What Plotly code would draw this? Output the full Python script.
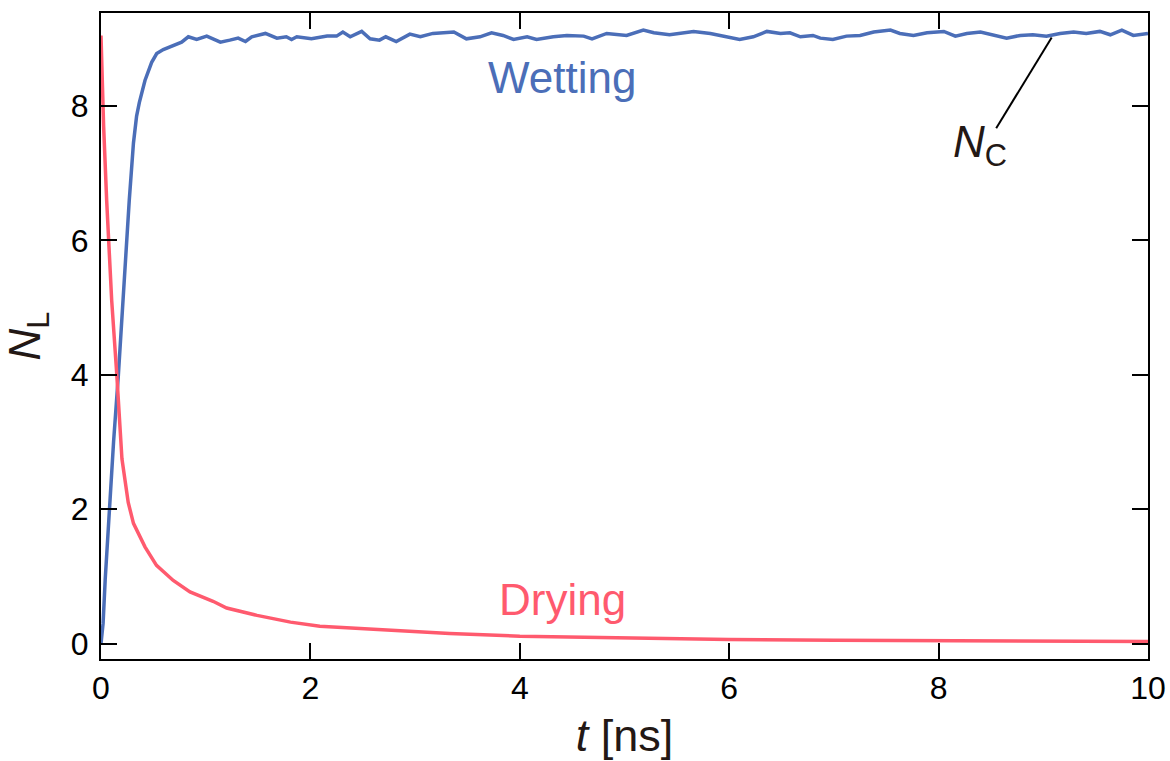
import plotly.graph_objects as go

# Wetting (blue) trajectory: t [ns], N_L
wet_t = [0, 0.02, 0.04, 0.06, 0.086, 0.12, 0.166, 0.207, 0.24, 0.27, 0.31, 0.34, 0.366,
         0.42, 0.484, 0.532, 0.595, 0.69, 0.77, 0.834, 0.914, 1.01, 1.14, 1.23, 1.31,
         1.38, 1.44, 1.57, 1.68, 1.77, 1.82, 1.87, 2.01, 2.16, 2.25, 2.31, 2.38, 2.49,
         2.57, 2.66, 2.72, 2.82, 2.95, 3.05, 3.17, 3.37, 3.49, 3.62, 3.73, 3.84, 3.94,
         4.07, 4.16, 4.32, 4.45, 4.61, 4.69, 4.83, 5.02, 5.18, 5.28, 5.43, 5.66, 5.82,
         5.98, 6.10, 6.23, 6.36, 6.49, 6.58, 6.68, 6.80, 6.87, 6.99, 7.12, 7.25, 7.38,
         7.54, 7.63, 7.76, 7.89, 8.05, 8.16, 8.27, 8.40, 8.52, 8.65, 8.78, 8.90, 9.03,
         9.16, 9.29, 9.41, 9.54, 9.64, 9.75, 9.86, 10.0]
wet_n = [0.0, 0.3, 0.95, 1.5, 2.05, 3.0, 4.0, 5.1, 5.9, 6.6, 7.45, 7.85, 8.05,
         8.38, 8.65, 8.78, 8.84, 8.9, 8.95, 9.03, 8.99, 9.04, 8.95, 8.98, 9.01,
         8.96, 9.03, 9.08, 9.01, 9.03, 8.99, 9.03, 9.0, 9.04, 9.04, 9.1, 9.03, 9.11,
         9.0, 8.98, 9.03, 8.96, 9.07, 9.03, 9.08, 9.1, 9.0, 9.03, 9.09, 9.05, 8.99,
         9.03, 8.99, 9.03, 9.05, 9.04, 9.0, 9.08, 9.05, 9.13, 9.09, 9.06, 9.11, 9.08,
         9.03, 8.99, 9.03, 9.11, 9.08, 9.09, 9.03, 9.05, 9.01, 8.99, 9.04, 9.05, 9.1,
         9.13, 9.08, 9.05, 9.09, 9.11, 9.04, 9.08, 9.1, 9.06, 9.01, 9.05, 9.06, 9.04,
         9.08, 9.1, 9.08, 9.11, 9.06, 9.13, 9.05, 9.08]

# Drying (red) trajectory
dry_t = [0, 0.025, 0.054, 0.102, 0.15, 0.2, 0.26, 0.31, 0.42, 0.53, 0.69, 0.85,
         1.07, 1.2, 1.49, 1.81, 2.09, 2.44, 2.76, 3.33, 4.0, 4.77, 6.0, 7.0, 8.0,
         9.0, 10.0]
dry_n = [9.05, 7.7, 6.6, 5.11, 4.02, 2.75, 2.1, 1.79, 1.44, 1.165, 0.94, 0.77,
         0.63, 0.53, 0.42, 0.32, 0.26, 0.23, 0.19, 0.15, 0.11, 0.09, 0.06, 0.05, 0.04,
         0.035, 0.03]

x_ticks = [0, 2, 4, 6, 8, 10]
y_ticks = [0, 2, 4, 6, 8]

BLUE = "#4B6EB8"
RED = "#FF5A6E"
INK = "#231815"
FONT = "Liberation Sans"

fig = go.Figure()
fig.add_trace(go.Scatter(x=wet_t, y=wet_n, mode="lines",
                         line=dict(color=BLUE, width=3.5), showlegend=False))
fig.add_trace(go.Scatter(x=dry_t, y=dry_n, mode="lines",
                         line=dict(color=RED, width=3.5), showlegend=False))

axis_common = dict(
    showgrid=False, zeroline=False, showline=True, linecolor="black", linewidth=2,
    ticks="inside", ticklen=16, tickwidth=2, tickcolor="black", mirror="ticks",
    tickfont=dict(family=FONT, size=32, color="black"), automargin=False,
)

fig.update_xaxes(range=[0, 10], tickvals=x_ticks, **axis_common,
                 title=dict(text="<i>t</i> [ns]", font=dict(family=FONT, size=45, color=INK),
                            standoff=14))
fig.update_yaxes(range=[-0.229, 9.384], tickvals=y_ticks, ticklabelstandoff=4, **axis_common,
                 title=dict(text="<i>N</i><sub>L</sub>", font=dict(family=FONT, size=44, color=INK),
                            standoff=22))

fig.add_annotation(x=4.4, y=8.43, text="Wetting", showarrow=False,
                   font=dict(family=FONT, size=44, color=BLUE), xanchor="center", yanchor="middle")
fig.add_annotation(x=4.41, y=0.66, text="Drying", showarrow=False,
                   font=dict(family=FONT, size=44, color=RED), xanchor="center", yanchor="middle")
fig.add_shape(type="line", x0=9.08, y0=9.02, x1=8.55, y1=7.67,
              line=dict(color="black", width=2))
fig.add_annotation(x=8.12, y=7.42, text="<i>N</i><sub>C</sub>", showarrow=False,
                   font=dict(family=FONT, size=44, color=INK), xanchor="left", yanchor="middle")

fig.update_layout(
    width=1170, height=761, autosize=False,
    margin=dict(l=101, r=22, t=13, b=102),
    paper_bgcolor="white", plot_bgcolor="white",
)

fig.write_html("out.html", config={"displayModeBar": False},
               post_script="document.body.style.margin='0';")
